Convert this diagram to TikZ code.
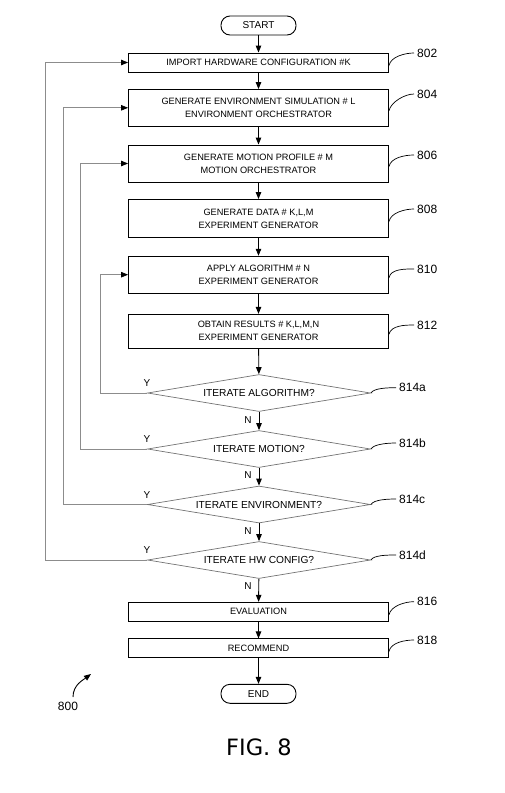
\documentclass[tikz,border=0pt]{standalone}
\usepackage{fontspec}
\setmainfont{Liberation Sans}
\newfontfamily\figfont{DejaVu Sans}
\usetikzlibrary{shapes.geometric,arrows.meta}
\begin{document}
\begin{tikzpicture}[x=1pt,y=-1pt,
  box/.style={draw=black,line width=0.9pt,minimum width=260pt,inner sep=0pt,align=center,font=\fontsize{9.2}{13}\selectfont},
  term/.style={draw=black,line width=0.9pt,rounded corners=9pt,minimum width=75pt,minimum height=19pt,inner sep=0pt,font=\fontsize{10}{12}\selectfont},
  dec/.style={diamond,aspect=6,draw=black!55,line width=0.7pt,minimum width=223pt,minimum height=37pt,inner sep=0pt,font=\fontsize{10.2}{12}\selectfont},
  arr/.style={line width=0.9pt,-{Triangle[length=7pt,width=5.5pt]}},
  fb/.style={draw=black!45,line width=0.7pt,-{Triangle[length=7pt,width=5.5pt,color=black,fill=black]}},
  lead/.style={draw=black,line width=0.7pt},
  ref/.style={anchor=west,inner sep=0pt,font=\fontsize{12}{14}\selectfont},
  yn/.style={inner sep=0pt,font=\fontsize{10}{12}\selectfont}
]
\useasboundingbox (0,0) rectangle (505,793);
% terminals
\node[term] (start) at (258.5,25.5) {START};
\node[term] (end) at (258.5,693.8) {END};
% boxes
\node[box,minimum height=19pt] (b802) at (258.5,62.5) {IMPORT HARDWARE CONFIGURATION \#K};
\node[box,minimum height=36.5pt] (b804) at (258.5,107.8) {GENERATE ENVIRONMENT SIMULATION \# L\\ENVIRONMENT ORCHESTRATOR};
\node[box,minimum height=37pt] (b806) at (258.5,163.5) {GENERATE MOTION PROFILE \# M\\MOTION ORCHESTRATOR};
\node[box,minimum height=38pt] (b808) at (258.5,218.5) {GENERATE DATA \# K,L,M\\EXPERIMENT GENERATOR};
\node[box,minimum height=37pt] (b810) at (258.5,274.7) {APPLY ALGORITHM \# N\\EXPERIMENT GENERATOR};
\node[box,minimum height=34pt] (b812) at (258.5,331.3) {OBTAIN RESULTS \# K,L,M,N\\EXPERIMENT GENERATOR};
% decisions
\node[dec] (da) at (259,393) {ITERATE ALGORITHM?};
\node[dec] (db) at (259,449) {ITERATE MOTION?};
\node[dec] (dc) at (259,504.5) {ITERATE ENVIRONMENT?};
\node[dec] (dd) at (259,560) {ITERATE HW CONFIG?};
\node[box,minimum height=19pt] (b816) at (258.5,611.8) {EVALUATION};
\node[box,minimum height=19pt] (b818) at (258.5,648.4) {RECOMMEND};
% main flow
\draw[arr] (start) -- (b802);
\draw[arr] (b802) -- (b804);
\draw[arr] (b804) -- (b806);
\draw[arr] (b806) -- (b808);
\draw[arr] (b808) -- (b810);
\draw[arr] (b810) -- (b812);
\draw[arr] (b812) -- (da);
\draw[arr] (da) -- (db);
\draw[arr] (db) -- (dc);
\draw[arr] (dc) -- (dd);
\draw[arr] (dd) -- (b816);
\draw[arr] (b816) -- (b818);
\draw[arr] (b818) -- (end);
% N labels
\node[yn] (na) at (248,420) {N};
\node[yn] (nb) at (248,475.5) {N};
\node[yn] (nc) at (248,531) {N};
\node[yn] (nd) at (248,586.5) {N};
% Y labels
\node[yn] (ya) at (147,383.5) {Y};
\node[yn] (yb) at (147,439.5) {Y};
\node[yn] (yc) at (147,495) {Y};
\node[yn] (yd) at (147,550.5) {Y};
% feedback loops
\coordinate (ka) at (100.3,0);
\coordinate (kb) at (80.3,0);
\coordinate (kc) at (63.3,0);
\coordinate (kd) at (45.3,0);
\draw[fb] (da.west) -- (da.west -| ka) |- (b810.west);
\draw[fb] (db.west) -- (db.west -| kb) |- (b806.west);
\draw[fb] (dc.west) -- (dc.west -| kc) |- (b804.west);
\draw[fb] (dd.west) -- (dd.west -| kd) |- (b802.west);
% reference labels
\node[ref] (r802) at (417,53) {802};
\node[ref] (r804) at (417,94) {804};
\node[ref] (r806) at (417,155) {806};
\node[ref] (r808) at (417,209) {808};
\node[ref] (r810) at (417,269) {810};
\node[ref] (r812) at (417,325) {812};
\node[ref] (r814a) at (399,387.7) {814a};
\node[ref] (r814b) at (399,443) {814b};
\node[ref] (r814c) at (399,499) {814c};
\node[ref] (r814d) at (399,555) {814d};
\node[ref] (r816) at (417,601.7) {816};
\node[ref] (r818) at (417,640) {818};
\foreach \b/\r in {b802/r802,b804/r804,b806/r806,b808/r808,b810/r810,b812/r812,b816/r816,b818/r818}
  \draw[lead] ([yshift=-3pt]\b.east) .. controls +(2,-9) and +(-9,0) .. ([xshift=-3pt]\r.west);
\foreach \b/\r in {da/r814a,db/r814b,dc/r814c,dd/r814d}
  \draw[lead] (\b.east) .. controls +(3,-5) and +(-8,0) .. ([xshift=-3pt]\r.west);
% figure number
\node[ref,anchor=center] (r800) at (68,706) {800};
\coordinate (s800) at (73,697);
\coordinate (a800) at (91,674);
\draw[line width=0.9pt,-{Triangle[length=7pt,width=5.5pt]}] (s800) .. controls +(0,-12) and +(-8,6) .. (a800);
\node[font=\figfont\fontsize{22.5}{26}\selectfont,inner sep=0pt] (fig) at (259,747.5) {FIG. 8};
\end{tikzpicture}
\end{document}
